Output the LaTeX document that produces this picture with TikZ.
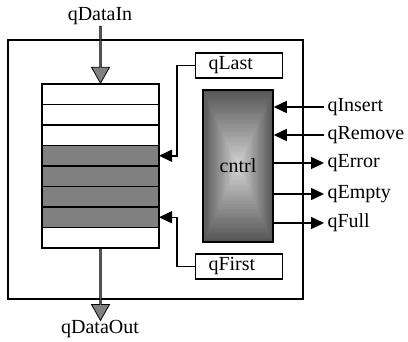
\documentclass[tikz,border=0pt]{standalone}
\usepackage{fontspec}
\setmainfont{Liberation Serif}
\usepackage{tikz}
\usetikzlibrary{positioning,shapes.arrows,arrows.meta}
\tikzset{
  cell/.style = {draw=black, line width=1.5pt, outer sep=0pt, inner sep=0pt, minimum width=117pt, minimum height=20.5pt},
  full/.style = {cell, fill=gray},
  bigarrow/.style = {single arrow, draw=black, fill=gray, line width=0.8pt, inner sep=0pt,
    minimum width=18pt, single arrow head extend=5pt, single arrow tip angle=59,
    single arrow head indent=0pt, rotate=-90},
  ptrbox/.style = {draw=black, line width=1.5pt, minimum height=25pt, text width=61pt, inner xsep=13pt, align=left},
  ctrlbox/.style = {draw=black, line width=1.5pt, minimum width=70pt, minimum height=152pt},
  sig/.style = {line width=1.5pt, -{Triangle[length=13pt,width=12pt]}}
}

\begin{document}
\begin{tikzpicture}[x=1pt, y=-1pt, font=\fontsize{20}{24}\selectfont]
\useasboundingbox (0,0) rectangle (408,341);

% queue frame
\node [draw=black, line width=2pt, minimum width=295pt, minimum height=259pt] (queue) at (155.5,169.5) {};

% storage cells
\node [cell] (cell1) at (100.5,94.25) {};
\node [cell, below=0pt of cell1] (cell2) {};
\node [cell, below=0pt of cell2] (cell3) {};
\node [full, below=0pt of cell3] (cell4) {};
\node [full, below=0pt of cell4] (cell5) {};
\node [full, below=0pt of cell5] (cell6) {};
\node [full, below=0pt of cell6] (cell7) {};
\node [cell, below=0pt of cell7] (cell8) {};

% data in / out
\node [bigarrow, minimum height=57pt, anchor=tip] (inarrow) at (cell1.north) {};
\node [bigarrow, minimum height=72pt, anchor=tail] (outarrow) at (cell8.south) {};
\node (din) at (100,16) {qDataIn};
\node (dout) at (100,329) {qDataOut};

% pointers
\node [ptrbox] (last) at (239,65.5) {qLast};
\node [ptrbox] (first) at (239,266.5) {qFirst};
\draw [sig] (last.west) -- ++(-18,0) |- (cell4.east);
\draw [sig] (first.west) -- ++(-18,0) |- (cell7.east);

% control unit: rectangular gradient, dark rim to light centre
\coordinate (cc) at (238,166);
\begin{scope}[shift={(cc)}]
  \foreach \k in {0,...,29}{
    \pgfmathsetmacro\f{1-\k/30}
    \pgfmathsetmacro\v{66-48*\k/29}
    \fill[black!\v] (-35*\f,-76*\f) rectangle (35*\f,76*\f);
  }
\end{scope}
\node [ctrlbox] (ctrl) at (cc) {cntrl};

\node [anchor=west] (ins) at (324,107) {qInsert};
\node [anchor=west] (rem) at (324,135) {qRemove};
\node [anchor=west] (err) at (324,163) {qError};
\node [anchor=west] (emp) at (324,194) {qEmpty};
\node [anchor=west] (fll) at (324,223) {qFull};

\draw [sig] (ins.west) -- (ins.west -| ctrl.east);
\draw [sig] (rem.west) -- (rem.west -| ctrl.east);
\draw [sig] (err.west -| ctrl.east) -- (err.west);
\draw [sig] (emp.west -| ctrl.east) -- (emp.west);
\draw [sig] (fll.west -| ctrl.east) -- (fll.west);
\end{tikzpicture}
\end{document}
